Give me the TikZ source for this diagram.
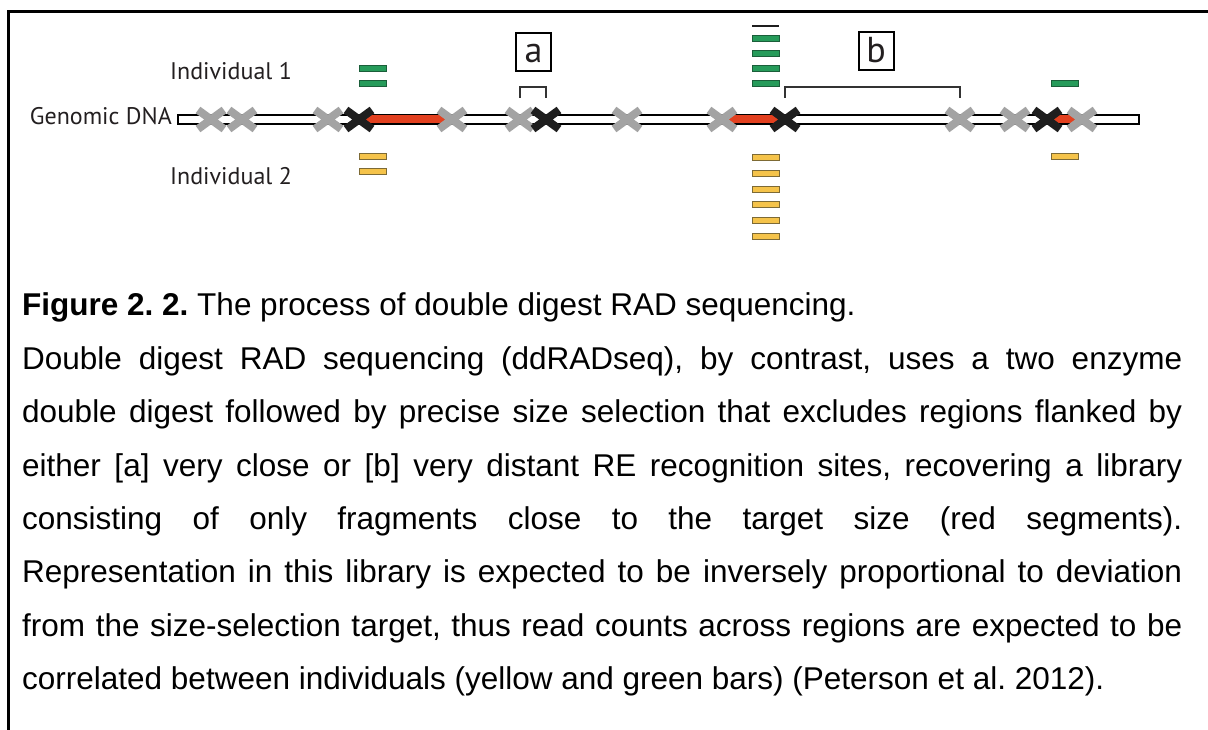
\documentclass[tikz,border=0pt]{standalone}
\usepackage{fontspec}
\setmainfont{Liberation Sans}
\newfontfamily\diafont{PT Sans}
\usetikzlibrary{calc}
\definecolor{xgray}{HTML}{A3A3A3}
\definecolor{xblack}{HTML}{1E1E1E}
\definecolor{dnared}{HTML}{E2401F}
\definecolor{gfill}{HTML}{269B5A}
\definecolor{gline}{HTML}{1B5E3A}
\definecolor{yfill}{HTML}{F5C34A}
\definecolor{yline}{HTML}{7D6A35}
\definecolor{lbltext}{HTML}{231F20}
\begin{document}
\begin{tikzpicture}[x=1pt,y=-1pt,
  frame/.style={line width=3pt,black},
  dna/.style={draw=black,fill=white,line width=1.8pt},
  redseg/.style={dnared,line width=8pt},
  gsite/.pic={\draw[xgray,line width=8pt] (-13,-9.5) -- (13,9.5) (-13,9.5) -- (13,-9.5);},
  bsite/.pic={\draw[xblack,line width=8pt] (-13,-9.5) -- (13,9.5) (-13,9.5) -- (13,-9.5);},
  bracket/.style={draw=black!80,line width=2.5pt},
  lbl/.style={font=\diafont\fontsize{24}{28}\selectfont,text=lbltext,inner sep=0pt},
  lbox/.style={draw=black,line width=2pt,minimum width=35pt,minimum height=38pt,inner sep=0pt,
    text height=22pt,text depth=0pt,font=\diafont\fontsize{36}{36}\selectfont,text=lbltext},
  gbar/.style={fill=gfill,draw=gline,line width=0.8pt,minimum width=27pt,minimum height=6pt,inner sep=0pt},
  ybar/.style={fill=yfill,draw=yline,line width=0.8pt,minimum width=27pt,minimum height=6pt,inner sep=0pt},
  caption/.style={text width=1160pt,inner sep=0pt,align=justify,
    font=\fontsize{31.5}{53.4}\selectfont}
]
\useasboundingbox (0,0) rectangle (1208,730);
\fill[white] (0,0) rectangle (1208,730);
% frame (cropped table border)
\draw[frame] (1208,12) -- (8,12) -- (8,730);

% labels
\node[lbl,anchor=base east] (gdna) at (172,125) {Genomic DNA};
\node[lbl,anchor=base west] (ind1) at (170,80) {Individual 1};
\node[lbl,anchor=base west] (ind2) at (170,185) {Individual 2};

% DNA strand
\coordinate (dnaL) at (178,115);
\coordinate (dnaR) at (1139,124);
\draw[dna] (dnaL) rectangle (dnaR);

% restriction sites
\coordinate (s1) at (211,119.5);
\coordinate (s2) at (242,119.5);
\coordinate (s3) at (328,119.5);
\coordinate (s4) at (359,119.5);
\coordinate (s5) at (452,119.5);
\coordinate (s6) at (520,119.5);
\coordinate (s7) at (546,119.5);
\coordinate (s8) at (627,119.5);
\coordinate (s9) at (722,119.5);
\coordinate (s10) at (785,119.5);
\coordinate (s11) at (960,119.5);
\coordinate (s12) at (1015,119.5);
\coordinate (s13) at (1047,119.5);
\coordinate (s14) at (1082,119.5);

% selected fragments
\draw[redseg] (s4) -- (s5);
\draw[redseg] (s9) -- (s10);
\draw[redseg] (s13) -- (s14);

\foreach \s in {s1,s2,s3,s5,s6,s8,s9,s11,s12,s14} {\pic at (\s) {gsite};}
\foreach \s in {s4,s7,s10,s13} {\pic at (\s) {bsite};}

% brackets
\draw[bracket] ($(s6)+(0,-21.5)$) -- ($(s6)+(0,-32.5)$) -- ($(s7)+(0,-32.5)$) -- ($(s7)+(0,-21.5)$);
\draw[bracket] ($(s10)+(0,-21.5)$) -- ($(s10)+(0,-32.5)$) -- ($(s11)+(0,-32.5)$) -- ($(s11)+(0,-21.5)$);
\node[lbox] (boxa) at (533.5,52) {a};
\node[lbox] (boxb) at (876,51.5) {b};

% reads, column 1
\node[gbar] (g11) at (372.5,68) {};
\node[gbar] (g12) at (372.5,83) {};
\node[ybar] (y11) at (372.5,156) {};
\node[ybar] (y12) at (372.5,171) {};

% reads, column 2
\draw[xblack,line width=1.2pt] (752,26) coordinate (t2a) -- (779,26) coordinate (t2b);
\node[gbar] (g21) at (765.5,38.5) {};
\node[gbar] (g22) at (765.5,53.5) {};
\node[gbar] (g23) at (765.5,68.5) {};
\node[gbar] (g24) at (765.5,83.5) {};
\node[ybar] (y21) at (765.5,157) {};
\node[ybar] (y22) at (765.5,173) {};
\node[ybar] (y23) at (765.5,189) {};
\node[ybar] (y24) at (765.5,204.5) {};
\node[ybar] (y25) at (765.5,220) {};
\node[ybar] (y26) at (765.5,236) {};

% reads, column 3
\node[gbar] (g31) at (1065,83.5) {};
\node[ybar] (y31) at (1065,156) {};

% caption
\node[caption,anchor=base west] (cap) at (22,316) {\parindent=0pt\frenchspacing\tolerance=10000\hyphenpenalty=10000\exhyphenpenalty=10000
\textbf{Figure 2. 2.} The process of double digest RAD sequencing.\par
Double digest RAD sequencing (ddRADseq), by contrast, uses a two enzyme\linebreak
double digest followed by precise size selection that excludes regions flanked by\linebreak
either [a] very close or [b] very distant RE recognition sites, recovering a library\linebreak
consisting of only fragments close to the target size (red segments).\linebreak
Representation in this library is expected to be inversely proportional to deviation\linebreak
from the size-selection target, thus read counts across regions are expected to be\linebreak
correlated between individuals (yellow and green bars) (Peterson et al. 2012).\par};
\end{tikzpicture}
\end{document}
